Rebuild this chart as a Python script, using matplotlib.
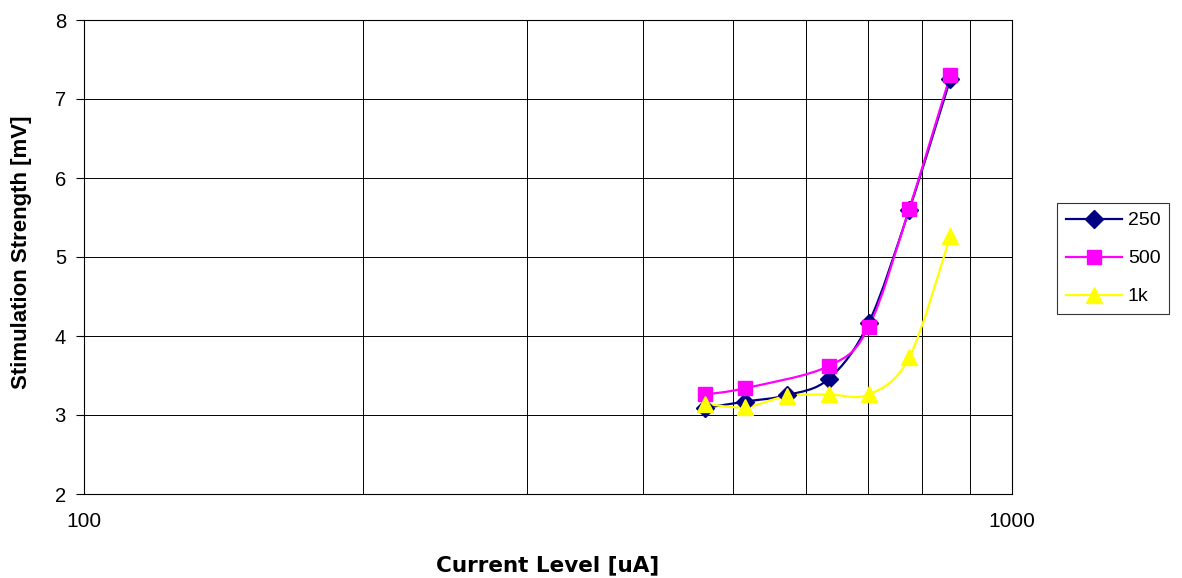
import numpy as np
import matplotlib.pyplot as plt
from matplotlib.path import Path
from matplotlib.patches import PathPatch
from matplotlib.lines import Line2D

plt.rcParams['font.family'] = ['Liberation Sans', 'DejaVu Sans']

# values
current = [467, 516, 572, 635, 701, 775, 858]
strength_250 = [3.09, 3.17, 3.25, 3.46, 4.17, 5.60, 7.25]
current_500 = [467, 516, 635, 701, 775, 858]
strength_500 = [3.26, 3.34, 3.62, 4.12, 5.61, 7.30]
strength_1k = [3.14, 3.10, 3.24, 3.26, 3.26, 3.73, 5.26]

series = [
    ("250", current, strength_250, "#000080", "D", 9),
    ("500", current_500, strength_500, "#FF00FF", "s", 9.5),
    ("1k", current, strength_1k, "#FFFF00", "^", 11),
]


def smooth_path(xs, ys):
    # Excel-like smoothed line: cubic Bezier through the points, tangents
    # taken from neighbours (computed in log-x space since the axis is log)
    u = np.log10(xs)
    y = np.asarray(ys, dtype=float)
    n = len(u)
    verts = [(xs[0], y[0])]
    codes = [Path.MOVETO]
    for i in range(n - 1):
        i0 = max(i - 1, 0)
        i3 = min(i + 2, n - 1)
        c1u = u[i] + (u[i + 1] - u[i0]) / 6
        c1y = y[i] + (y[i + 1] - y[i0]) / 6
        c2u = u[i + 1] - (u[i3] - u[i]) / 6
        c2y = y[i + 1] - (y[i3] - y[i]) / 6
        verts += [(10 ** c1u, c1y), (10 ** c2u, c2y), (xs[i + 1], y[i + 1])]
        codes += [Path.CURVE4] * 3
    return Path(verts, codes)


fig = plt.figure(figsize=(11.82, 5.78), dpi=100)
ax = fig.add_axes([84 / 1182, 84 / 578, 928 / 1182, 474 / 578])

ax.set_xscale("log")
ax.set_xlim(100, 1000)
ax.set_ylim(2, 8)

ax.set_xticks([100, 1000])
ax.set_xticklabels(["100", "1000"])
ax.set_xticks([200, 300, 400, 500, 600, 700, 800, 900], minor=True)
ax.xaxis.set_minor_formatter(plt.NullFormatter())
ax.tick_params(axis="x", which="both", length=0, pad=13, labelsize=15)
ax.set_yticks(range(2, 9))
ax.tick_params(axis="y", length=6, width=0.8, labelsize=14.5, pad=7)

ax.grid(True, which="both", axis="x", color="black", linewidth=0.7)
ax.grid(True, axis="y", color="black", linewidth=0.7)
for sp in ax.spines.values():
    sp.set_color("black")
    sp.set_linewidth(0.8)

handles = []
for label, xs, ys, color, marker, ms in series:
    ax.add_patch(PathPatch(smooth_path(xs, ys), facecolor="none",
                           edgecolor=color, linewidth=1.6, zorder=3))
    ax.plot(xs, ys, linestyle="none", marker=marker, color=color,
            markersize=ms, zorder=4)
    handles.append(Line2D([], [], color=color, linewidth=1.6, marker=marker,
                          markersize=ms, label=label))

ax.set_xlabel("Current Level [uA]", fontsize=15.5, fontweight="bold",
              family="DejaVu Sans")
ax.xaxis.set_label_coords(0.5, -61 / 474)
ax.xaxis.label.set_verticalalignment("top")
ax.set_ylabel("Stimulation Strength [mV]", fontsize=16, fontweight="bold")
ax.yaxis.set_label_coords(-52 / 928, 0.51)

leg = fig.legend(handles=handles, loc="upper left",
                 bbox_to_anchor=(1057 / 1182, 1 - 203 / 578),
                 frameon=True, fancybox=False, fontsize=14, handlelength=2.9,
                 borderpad=0.45, labelspacing=1.05, handletextpad=0.3,
                 borderaxespad=0)
leg.get_frame().set_edgecolor("black")
leg.get_frame().set_linewidth(0.8)

fig.savefig("out.png", dpi=100)
